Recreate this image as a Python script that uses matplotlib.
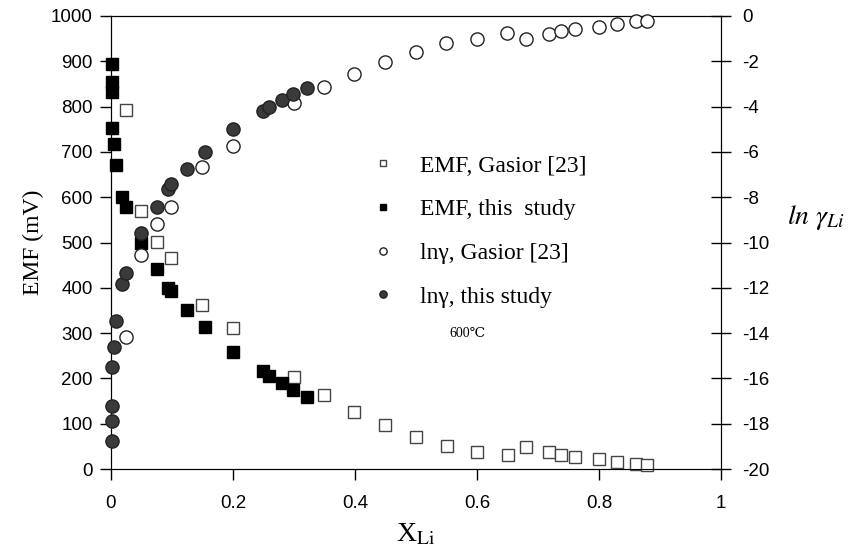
import matplotlib
matplotlib.use("Agg")
import matplotlib.pyplot as plt

plt.rcParams['mathtext.fontset'] = 'stix'
plt.rcParams['axes.unicode_minus'] = False

# data
x_study = [0.001, 0.001, 0.001, 0.002, 0.005, 0.008, 0.018, 0.025, 0.049, 0.075,
           0.093, 0.099, 0.125, 0.154, 0.2, 0.249, 0.259, 0.28, 0.299, 0.321]
emf_study = [894, 855, 833, 753, 717, 671, 601, 578, 500, 441,
             399, 393, 352, 314, 259, 216, 206, 189, 174, 158]
lng_study = [-18.75, -17.87, -17.22, -15.48, -14.6, -13.47, -11.83, -11.33, -9.59, -8.42,
             -7.62, -7.43, -6.74, -5.99, -4.99, -4.19, -4.03, -3.71, -3.44, -3.19]

x_gasior = [0.025, 0.049, 0.075, 0.099, 0.149, 0.2, 0.3, 0.349, 0.399, 0.449, 0.5,
            0.55, 0.6, 0.65, 0.681, 0.718, 0.738, 0.76, 0.8, 0.829, 0.86, 0.878]
emf_gasior = [792, 570, 501, 465, 363, 312, 202, 163, 126, 97, 71,
              51, 38, 30, 48, 37, 30, 26, 21, 15, 11, 9]
lng_gasior = [-14.19, -10.55, -9.18, -8.45, -6.68, -5.72, -3.86, -3.15, -2.56, -2.03, -1.59,
              -1.21, -1.00, -0.77, -1.00, -0.78, -0.68, -0.56, -0.47, -0.34, -0.24, -0.21]

x_ticks = [0, 0.2, 0.4, 0.6, 0.8, 1]
x_ticklabels = ['0', '0.2', '0.4', '0.6', '0.8', '1']
emf_ticks = list(range(0, 1001, 100))
lng_ticks = list(range(-20, 1, 2))

serif = ['Liberation Serif', 'DejaVu Serif']
sans = ['Liberation Sans', 'DejaVu Sans']

fig = plt.figure(figsize=(8.5, 5.55), dpi=100)
ax = fig.add_axes([111 / 850, 1 - 469 / 555, 610 / 850, 453 / 555])
ax2 = ax.twinx()

l1, = ax.plot(x_gasior, emf_gasior, ls='none', marker='s', ms=8.5, mfc='white',
              mec='#444444', mew=1.0, zorder=3, clip_on=False)
l2, = ax.plot(x_study, emf_study, ls='none', marker='s', ms=8.5, mfc='black',
              mec='black', mew=1.0, zorder=4, clip_on=False)
l3, = ax2.plot(x_gasior, lng_gasior, ls='none', marker='o', ms=9.5, mfc='white',
               mec='#222222', mew=1.0, zorder=3, clip_on=False)
l4, = ax2.plot(x_study, lng_study, ls='none', marker='o', ms=9.5, mfc='#3a3a3a',
               mec='#222222', mew=1.0, zorder=4, clip_on=False)

ax.set_xlim(0, 1)
ax.set_ylim(0, 1000)
ax2.set_ylim(-20, 0)

ax.set_xticks(x_ticks)
ax.set_xticklabels(x_ticklabels)
ax.set_yticks(emf_ticks)
ax2.set_yticks(lng_ticks)

for a in (ax, ax2):
    for lab in a.get_xticklabels() + a.get_yticklabels():
        lab.set_family(sans)
        lab.set_fontsize(13.5)
ax.tick_params(axis='y', direction='out', length=8, width=1, pad=5)
ax.tick_params(axis='x', direction='out', length=8, width=1, pad=11)
ax2.tick_params(axis='y', direction='inout', length=14, width=1, pad=8)

ax.set_ylabel('EMF (mV)', family=serif, fontsize=17, labelpad=5)
ax.set_xlabel(r'X$_{\mathrm{Li}}$', family=serif, fontsize=20, labelpad=7)
fig.text(787 / 850, 1 - 218 / 555, r'$ln\ \gamma_{Li}$', fontsize=20,
         ha='left', va='center')

leg = ax2.legend([l1, l2, l3, l4],
                 ['EMF, Gasior [23]', 'EMF, this  study', 'ln\u03b3, Gasior [23]',
                  'ln\u03b3, this study'],
                 loc='upper left', bbox_to_anchor=(374.7 / 850, 1 - 155 / 555),
                 bbox_transform=fig.transFigure, frameon=False, borderpad=0,
                 borderaxespad=0, handlelength=0.7, handletextpad=1.22,
                 labelspacing=0.94, markerscale=0.55, numpoints=1,
                 prop={'family': serif, 'size': 17})

ax2.text(0.585, 0.300, '600\u2103', transform=ax2.transAxes, fontsize=10,
         family=['Liberation Serif', 'DejaVu Serif', 'Noto Sans CJK SC'],
         ha='center', va='center')

fig.savefig('out.png', dpi=100)
